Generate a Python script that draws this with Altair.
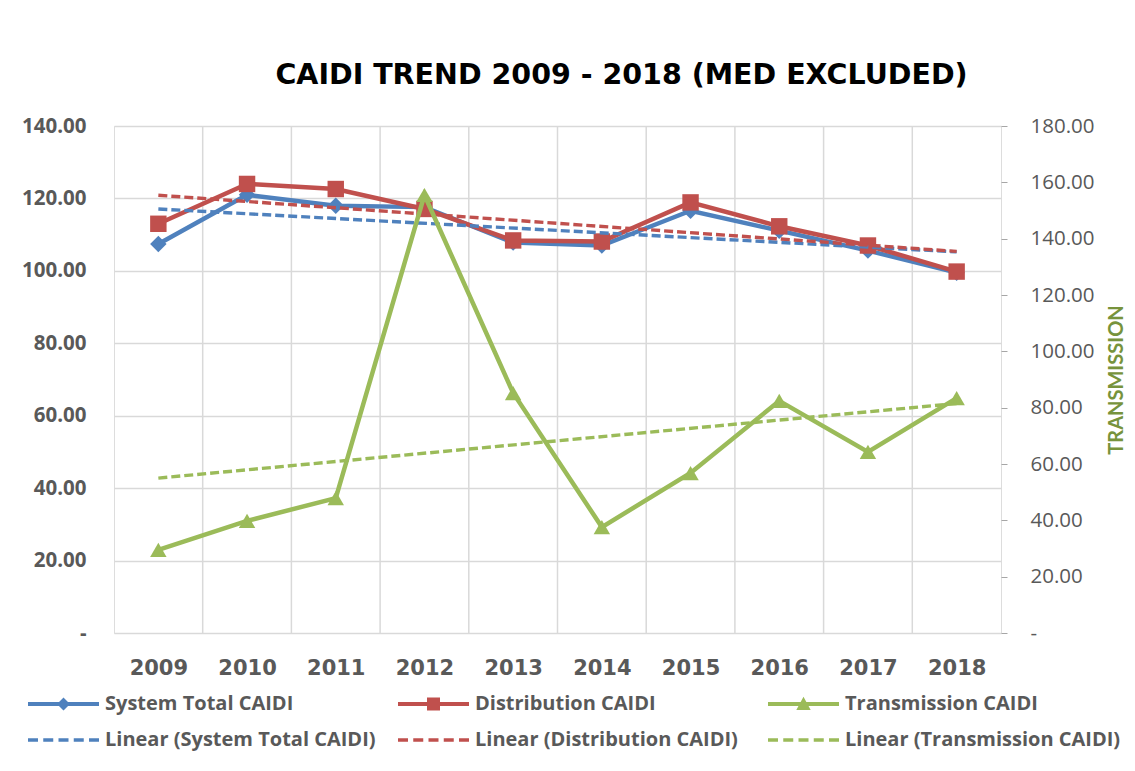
import altair as alt
import pandas as pd

years = [2009, 2010, 2011, 2012, 2013, 2014, 2015, 2016, 2017, 2018]
system_total = [107.4, 121.0, 118.0, 117.6, 107.8, 107.0, 116.6, 111.1, 105.6, 99.5]
distribution = [113.0, 124.0, 122.6, 117.1, 108.4, 108.1, 118.9, 112.3, 107.0, 99.8]
transmission = [29.5, 39.8, 47.9, 155.5, 85.2, 37.6, 56.8, 82.4, 64.3, 83.4]

legend_labels = [
    "System Total CAIDI", "Distribution CAIDI", "Transmission CAIDI",
    "Linear (System Total CAIDI)", "Linear (Distribution CAIDI)", "Linear (Transmission CAIDI)",
]
left_ticks = [0, 20, 40, 60, 80, 100, 120, 140]
right_ticks = [0, 20, 40, 60, 80, 100, 120, 140, 160, 180]

BLUE, RED, GREEN = "#4F81BD", "#C0504D", "#9BBB59"
LABEL = "#595959"
GRID = "#d9d9d9"

# legend symbol shapes (line + marker / dashes)
bar = "M-1,-0.2H6.1V0.2H-1Z"
p_diamond = bar + " M1.9,0L2.55,-0.65L3.2,0L2.55,0.65Z"
p_square = bar + " M1.9,-0.65H3.2V0.65H1.9Z"
p_triangle = bar + " M2.55,-0.72L3.27,0.6H1.83Z"
p_dash = ("M-1,-0.17H0V0.17H-1Z M0.525,-0.17H1.525V0.17H0.525Z M2.05,-0.17H3.05V0.17H2.05Z "
          "M3.575,-0.17H4.575V0.17H3.575Z M5.1,-0.17H6.1V0.17H5.1Z")

df_sys = pd.DataFrame({"year": years, "v": system_total})
df_dis = pd.DataFrame({"year": years, "v": distribution})
df_tra = pd.DataFrame({"year": years, "v": transmission})
df_years = pd.DataFrame({"year": years})
df_leg = pd.DataFrame({"k": legend_labels})

xscale = alt.Scale(domain=[2008.5, 2018.5], nice=False, zero=False)
xaxis = alt.Axis(values=years, format="d", grid=False, ticks=False, domain=False,
                 labelFont="DejaVu Sans", labelFontWeight="bold", labelFontSize=21,
                 labelColor=LABEL, labelPadding=24, title=None)
X = alt.X("year:Q", scale=xscale, axis=xaxis)

lab_expr = "datum.value == 0 ? '-\u2007\u2007' : format(datum.value, '.2f')"
Y_left = alt.Y("v:Q", scale=alt.Scale(domain=[0, 140], nice=False),
               axis=alt.Axis(values=left_ticks, labelExpr=lab_expr, grid=True, gridColor=GRID,
                             gridWidth=1.5, ticks=False, domain=False, labelFont="Open Sans",
                             labelFontWeight="bold", labelFontSize=20.5, labelColor=LABEL,
                             labelPadding=28, title=None))
r_expr = "datum.value == 0 ? '\u00a0-' : format(datum.value, '.2f')"
Y_right = alt.Y("v:Q", scale=alt.Scale(domain=[0, 180], nice=False),
                axis=alt.Axis(orient="right", values=right_ticks, labelExpr=r_expr, grid=False,
                              ticks=True, tickSize=6, tickColor="#a6a6a6", domain=False,
                              labelFont="Open Sans", labelFontSize=20.5, labelColor=LABEL,
                              labelPadding=23, title="TRANSMISSION", titleColor="#77933C",
                              titleFont="Lato", titleFontWeight="bold", titleFontSize=20,
                              titleAngle=270, titlePadding=33))


def series(df, color, shape, Y):
    base = alt.Chart(df)
    line = base.mark_line(color=color, strokeWidth=4.5).encode(x=X, y=Y)
    pts = base.mark_point(shape=shape, filled=True, color=color, opacity=1, size=270).encode(x=X, y=Y)
    return line, pts


def trend(df, color, Y):
    return alt.Chart(df).transform_regression("year", "v").mark_line(
        color=color, strokeWidth=3.4, strokeDash=[9, 4]).encode(x=X, y=Y)


grid_rules = alt.Chart(df_years).transform_calculate(b="datum.year + 0.5").transform_filter(
    "datum.b < 2018.4").mark_rule(color=GRID, strokeWidth=1.5).encode(
    x=alt.X("b:Q", scale=xscale, axis=xaxis))

leg = alt.Legend(orient="none", legendX=-86, legendY=568, columns=3, direction="horizontal",
                 title=None, labelFont="Open Sans", labelFontWeight="bold", labelFontSize=20,
                 labelColor=LABEL, labelLimit=500, symbolSize=400, symbolStrokeWidth=0,
                 labelOffset=57, columnPadding=17, rowPadding=16, gridAlign="all", padding=0)
legend_layer = alt.Chart(df_leg).transform_filter("false").mark_point(filled=True, opacity=1).encode(
    fill=alt.Fill("k:N", scale=alt.Scale(domain=legend_labels, range=[BLUE, RED, GREEN, BLUE, RED, GREEN]),
                  legend=leg),
    shape=alt.Shape("k:N", scale=alt.Scale(domain=legend_labels,
                                            range=[p_diamond, p_square, p_triangle, p_dash, p_dash, p_dash]),
                    legend=leg),
)

sys_line, sys_pts = series(df_sys, BLUE, "diamond", Y_left)
dis_line, dis_pts = series(df_dis, RED, "square", Y_left)
tra_line, tra_pts = series(df_tra, GREEN, "triangle-up", Y_right)

left = alt.layer(grid_rules, sys_line, sys_pts, dis_line, dis_pts,
                 trend(df_sys, BLUE, Y_left), trend(df_dis, RED, Y_left), legend_layer)
right = alt.layer(tra_line, tra_pts, trend(df_tra, GREEN, Y_right))

chart = alt.layer(left, right).resolve_scale(y="independent", fill="independent", shape="independent").properties(
    width=887, height=507,
    title=alt.Title("CAIDI TREND 2009 - 2018 (MED EXCLUDED)", font="DejaVu Sans", fontSize=28.5,
                    fontWeight="bold", color="#000000", anchor="middle", dx=64, offset=27),
    padding={"left": 13, "top": 52, "right": 0, "bottom": 5},
).configure_view(stroke="#999999", strokeWidth=2).configure(background="white")

chart.save("out.html", embed_options={"renderer": "svg", "actions": False})
